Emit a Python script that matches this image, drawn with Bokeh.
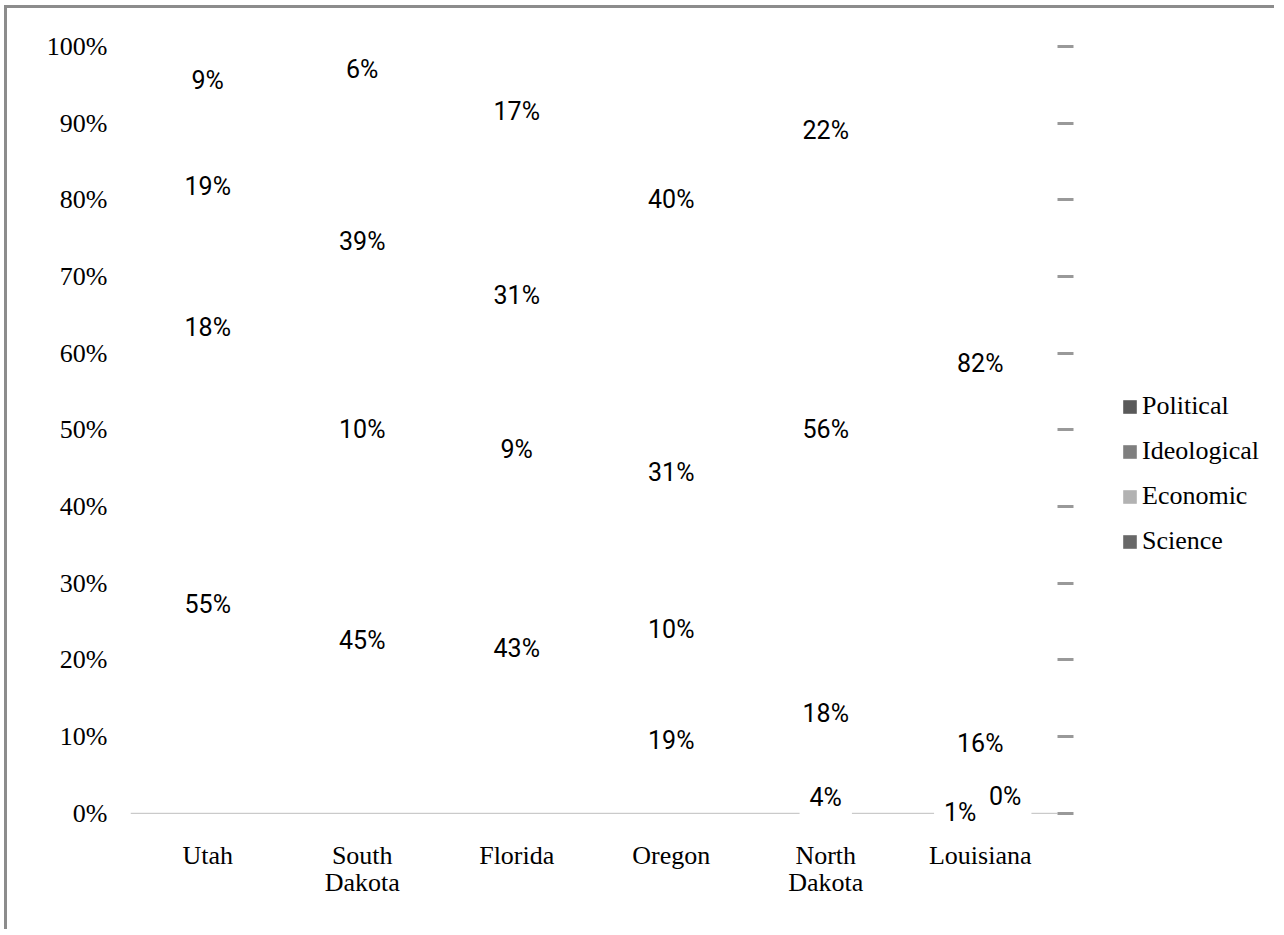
import json
import numpy as np
from bokeh.plotting import figure
from bokeh.models import (ColumnDataSource, FixedTicker, LinearAxis, Legend, LegendItem,
                          CustomJSTickFormatter, Range1d)
from bokeh.core.properties import value
from bokeh.embed import file_html
from bokeh.resources import INLINE

# ---------------- data ----------------
states = ["Utah", "South Dakota", "Florida", "Oregon", "North Dakota", "Louisiana"]
state_line1 = ["Utah", "South", "Florida", "Oregon", "North", "Louisiana"]
state_line2 = ["", "Dakota", "", "", "Dakota", ""]
series = ["Science", "Economic", "Ideological", "Political"]          # bottom -> top
science = [55, 45, 43, 19, 4, 1]
economic = [18, 10, 9, 10, 18, 0]
ideological = [19, 39, 31, 31, 56, 16]
political = [9, 6, 17, 40, 22, 82]
legend_order = ["Political", "Ideological", "Economic", "Science"]
legend_colors = {"Political": "#595959", "Ideological": "#7f7f7f",
                 "Economic": "#b2b2b2", "Science": "#686868"}
yticks = [0, 0.1, 0.2, 0.3, 0.4, 0.5, 0.6, 0.7, 0.8, 0.9, 1.0]
yticklabels = ["0%", "10%", "20%", "30%", "40%", "50%", "60%", "70%", "80%", "90%", "100%"]

SERIF = "Liberation Serif"
SANS = "Roboto"

# ---------------- layout numbers ----------------
n = len(states)
px_per_cat = 154.5
frame_w = 1147                      # frame also hosts the legend on its right
x_end = -0.5 + frame_w / px_per_cat
cat_idx = list(range(n))

p = figure(x_range=Range1d(-0.5, x_end), y_range=(-0.025, 1.005), output_backend="svg",
           toolbar_location=None, frame_width=frame_w, frame_height=790,
           min_border_left=123, min_border_top=34, min_border_bottom=100, min_border_right=0)
p.styles = {"margin": "8px 0 0 7px", "box-shadow": "-3px -3px 0 0 #8c8c8c"}
p.background_fill_color = "white"
p.border_fill_color = "white"
p.outline_line_color = None
p.grid.grid_line_color = None

# 100% stacked values (normalised by each column's total)
vals = np.array([science, economic, ideological, political], dtype=float)
totals = vals.sum(axis=0)
frac = vals / totals
tops = np.cumsum(frac, axis=0)
bottoms = tops - frac

data = {"x": cat_idx}
for name, f in zip(series, frac):
    data[name] = f
src = ColumnDataSource(data)
# the columns carry no fill in the reference
p.vbar_stack(series, x="x", width=0.5, source=src, fill_color=None, line_color=None)

# baseline (category axis line) under the labels
p.segment(x0=[-0.5], x1=[n - 0.5], y0=[0], y1=[0], line_color="#bfbfbf", line_width=1,
          level="underlay")

# data labels
lx, ly, lt, dx, dy = [], [], [], [], []
for si, name in enumerate(series):
    for ci in cat_idx:
        lx.append(ci)
        ly.append((bottoms[si, ci] + tops[si, ci]) / 2)
        lt.append(f"{int(vals[si, ci])}%")
        # crowded tiny segments: nudged sideways like the original
        if vals[si, ci] <= 1:
            dx.append(-20 if si == 0 else 25)
            dy.append(3 if si == 0 else -9)
        else:
            dx.append(0)
            dy.append(0)
lsrc = ColumnDataSource(dict(x=lx, y=ly, t=lt, dx=dx, dy=dy))
p.text(x="x", y="y", text="t", x_offset="dx", y_offset="dy", source=lsrc,
       text_font=value(SANS), text_font_size="25px", text_color="black",
       text_align="center", text_baseline="middle",
       background_fill_color="white", padding=10)

# x axes (two label lines)
def style_x(ax, standoff, lines):
    ax.ticker = FixedTicker(ticks=cat_idx)
    ax.axis_line_color = None
    ax.major_tick_line_color = None
    ax.minor_tick_line_color = None
    ax.major_label_text_font = SERIF
    ax.major_label_text_font_size = "26px"
    ax.major_label_text_color = "black"
    ax.major_label_standoff = standoff
    mapping = json.dumps(dict(zip([str(i) for i in cat_idx], lines)))
    ax.formatter = CustomJSTickFormatter(code=f"const m = {mapping}; return m[String(tick)] ?? '';")

style_x(p.xaxis[0], 2, state_line1)
x2 = LinearAxis()
style_x(x2, -11, state_line2)
p.add_layout(x2, "below")

p.yaxis.ticker = FixedTicker(ticks=yticks)
p.yaxis.major_label_overrides = dict(zip(yticks, yticklabels))
p.yaxis.axis_line_color = None
p.yaxis.major_tick_line_color = None
p.yaxis.minor_tick_line_color = None
p.yaxis.major_label_text_font = SERIF
p.yaxis.major_label_text_font_size = "26px"
p.yaxis.major_label_text_color = "black"
p.yaxis.major_label_standoff = 17

# tick dashes just right of the last category (an unlabeled axis at the category edge)
edge = LinearAxis(ticker=FixedTicker(ticks=yticks), fixed_location=n - 0.5,
                  formatter=CustomJSTickFormatter(code="return ''"))
edge.axis_line_color = None
edge.major_tick_line_color = "#999999"
edge.major_tick_line_width = 3
edge.major_tick_in = 16
edge.major_tick_out = 0
edge.minor_tick_line_color = None
edge.major_label_standoff = 0
p.add_layout(edge, "left")

# legend swatches: zero-size proxies (nothing visible in the plot)
items = []
for name in legend_order:
    r = p.vbar(x=[cat_idx[0]], top=[0], bottom=[0], width=0,
               fill_color=legend_colors[name], line_color=None)
    items.append(LegendItem(label=name, renderers=[r]))
legend = Legend(items=items, location=(991, 276), orientation="vertical",
                glyph_width=17, glyph_height=17, label_standoff=4, spacing=15,
                padding=0, margin=0, border_line_color=None, background_fill_alpha=0,
                label_text_font=SERIF, label_text_font_size="26px", label_text_color="black")
p.add_layout(legend)

open("out.html", "w").write(file_html(p, INLINE))
